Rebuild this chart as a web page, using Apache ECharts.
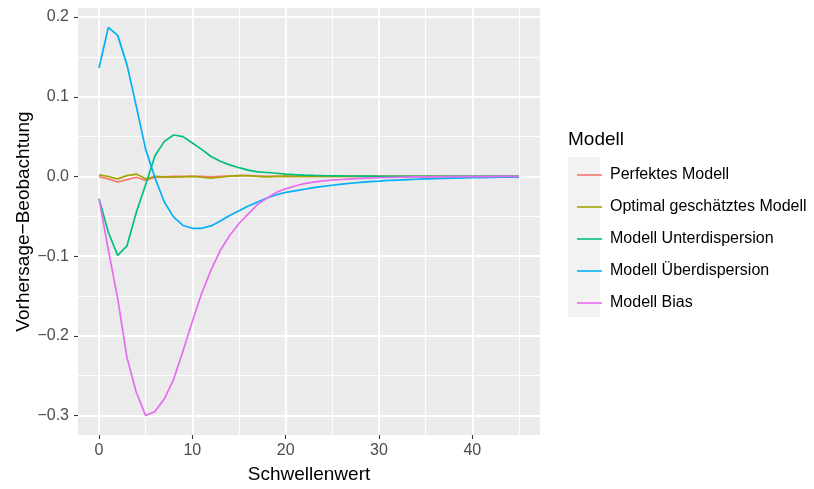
<!DOCTYPE html>
<html>
<head>
<meta charset="utf-8">
<script src="https://cdn.jsdelivr.net/npm/echarts@6/dist/echarts.min.js"></script>
<style>html,body{margin:0;padding:0;background:#fff}#c{width:814px;height:489px}</style>
</head>
<body>
<div id="c"></div>
<script>
const xValues = Array.from({length: 46}, (_, i) => i); // thresholds 0..45
const seriesNames = ['Perfektes Modell', 'Optimal geschätztes Modell', 'Modell Unterdispersion', 'Modell Überdispersion', 'Modell Bias'];
const colors = ['#F8766D', '#A3A500', '#00BF7D', '#00B0F6', '#E76BF3'];

const perfekt = [-0.0004, -0.003, -0.007, -0.004, -0.001, -0.005, -0.001, -0.0005, 0, 0, 0.0003, 0, -0.0005, 0, 0.0005, 0.001, 0.001, 0.0005, 0, 0,
  0, 0, 0, 0, 0, 0, 0, 0, 0, 0, 0, 0, 0, 0, 0, 0, 0, 0, 0, 0, 0, 0, 0, 0, 0, 0];
const optimal = [0.002, 0.000, -0.003, 0.001, 0.003, -0.003, 0.000, -0.0005, -0.001, -0.0005, 0.000, -0.001, -0.002, -0.001, 0.0005, 0.001, 0.001, 0.000, -0.0005, 0,
  0.0005, 0, 0, 0, 0, 0, 0, 0, 0, 0, 0, 0, 0, 0, 0, 0, 0, 0, 0, 0, 0, 0, 0, 0, 0, 0];
const unterdispersion = [-0.028, -0.070, -0.099, -0.087, -0.045, -0.010, 0.026, 0.044, 0.052, 0.050, 0.042, 0.034, 0.025, 0.019, 0.0145, 0.011, 0.008, 0.0057, 0.005, 0.004,
  0.003, 0.0023, 0.0018, 0.0014, 0.0011, 0.0009, 0.0007, 0.0006, 0.0005, 0.0004, 0.0003, 0.0003, 0.0002, 0.0002, 0.0001, 0.0001, 0.0001, 0, 0, 0, 0, 0, 0, 0, 0, 0];
const ueberdispersion = [0.136, 0.187, 0.177, 0.140, 0.088, 0.034, -0.002, -0.032, -0.051, -0.0615, -0.065, -0.065, -0.062, -0.056, -0.049, -0.043, -0.037, -0.032, -0.027, -0.023,
  -0.020, -0.018, -0.016, -0.014, -0.0125, -0.011, -0.0095, -0.0085, -0.0075, -0.0065, -0.0058, -0.005, -0.0045, -0.004, -0.0035, -0.003, -0.0027, -0.0024, -0.0021, -0.0018,
  -0.0016, -0.0014, -0.0012, -0.001, -0.0009, -0.0008];
const bias = [-0.028, -0.092, -0.153, -0.2275, -0.271, -0.300, -0.295, -0.279, -0.2545, -0.219, -0.182, -0.1466, -0.1175, -0.0926, -0.074, -0.059, -0.047, -0.035, -0.027, -0.020,
  -0.0155, -0.012, -0.009, -0.007, -0.0056, -0.0046, -0.0038, -0.0031, -0.0025, -0.002, -0.0016, -0.0013, -0.001, -0.0008, -0.0006, -0.0005, -0.0004, -0.0003, -0.0002, -0.0002,
  -0.0001, -0.0001, -0.0001, 0, 0, 0];

const xMajor = [0, 10, 20, 30, 40];
const xMinor = [5, 15, 25, 35, 45];
const yMajor = [-0.3, -0.2, -0.1, 0, 0.1, 0.2];
const yMinor = [-0.25, -0.15, -0.05, 0.05, 0.15];

const FONT = "'Liberation Sans', Arial, sans-serif";
const allSeries = [perfekt, optimal, unterdispersion, ueberdispersion, bias];
const xMin = -2.25, xMax = 47.25, yMin = -0.32435, yMax = 0.21135;

const fmtY = v => (v < 0 ? '\u2212' : '') + Math.abs(v).toFixed(1);

const chart = echarts.init(document.getElementById('c'), null, {renderer: 'canvas'});
chart.setOption({
  animation: false,
  backgroundColor: '#ffffff',
  textStyle: {fontFamily: FONT},
  title: {
    text: 'Modell', left: 568, top: 130, padding: 0,
    textStyle: {fontFamily: FONT, fontSize: 19, fontWeight: 'normal', color: '#000'}
  },
  graphic: [{
    type: 'rect', left: 568, top: 157, z: -1,
    shape: {width: 32, height: 160},
    style: {fill: '#F2F2F2'}
  }],
  legend: {
    orient: 'vertical', left: 572, top: 162,
    itemWidth: 25, itemHeight: 16, itemGap: 16,
    icon: 'path://M0,0H25V1.6H0Z',
    data: seriesNames,
    textStyle: {fontFamily: FONT, fontSize: 16, color: '#000', padding: [0, 0, 0, 3], lineHeight: 16}
  },
  grid: {left: 78, top: 8, width: 462, height: 429, containLabel: false, show: true, backgroundColor: '#EBEBEB', borderWidth: 0},
  xAxis: [{
    type: 'value', min: xMin, max: xMax, position: 'bottom',
    name: 'Schwellenwert', nameLocation: 'middle', nameGap: 30,
    nameTextStyle: {fontFamily: FONT, fontSize: 19, color: '#000'},
    axisLine: {show: false, onZero: false},
    axisTick: {show: true, length: 4, customValues: xMajor, lineStyle: {color: '#333', width: 1.1}},
    axisLabel: {customValues: xMajor, margin: 8, fontSize: 16, color: '#4D4D4D', fontFamily: FONT},
    splitLine: {show: true, lineStyle: {color: '#fff', width: 1.8}}
  }, {
    type: 'value', min: xMin, max: xMax, position: 'bottom',
    axisLine: {show: false, onZero: false},
    axisTick: {show: false, customValues: xMinor},
    axisLabel: {show: false, customValues: xMinor},
    splitLine: {show: true, lineStyle: {color: '#fff', width: 0.9}}
  }],
  yAxis: [{
    type: 'value', min: yMin, max: yMax, position: 'left',
    name: 'Vorhersage\u2212Beobachtung', nameLocation: 'middle', nameGap: 45, nameRotate: 90,
    nameMoveOverlap: false,
    nameTextStyle: {fontFamily: FONT, fontSize: 19, color: '#000'},
    axisLine: {show: false, onZero: false},
    axisTick: {show: true, length: 4, customValues: yMajor, lineStyle: {color: '#333', width: 1.1}},
    axisLabel: {customValues: yMajor, margin: 9, fontSize: 16, color: '#4D4D4D', fontFamily: FONT, formatter: fmtY},
    splitLine: {show: true, lineStyle: {color: '#fff', width: 1.8}}
  }, {
    type: 'value', min: yMin, max: yMax, position: 'left',
    axisLine: {show: false, onZero: false},
    axisTick: {show: false, customValues: yMinor},
    axisLabel: {show: false, customValues: yMinor},
    splitLine: {show: true, lineStyle: {color: '#fff', width: 0.9}}
  }],
  series: allSeries.map((vals, i) => ({
    name: seriesNames[i], type: 'line', xAxisIndex: 0, yAxisIndex: 0,
    data: xValues.map((x, j) => [x, vals[j]]),
    showSymbol: false, symbol: 'none',
    lineStyle: {color: colors[i], width: 1.7},
    itemStyle: {color: colors[i]},
    z: 3 + i
  }))
});
</script>
</body>
</html>
